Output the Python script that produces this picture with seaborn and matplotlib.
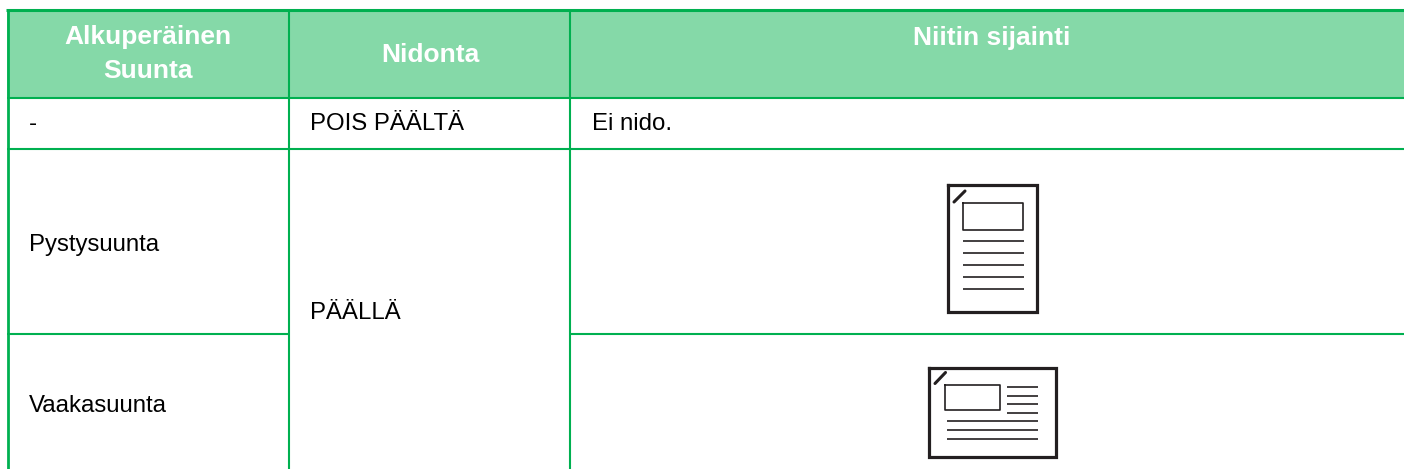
import numpy as np
import matplotlib.pyplot as plt
import seaborn as sns

# table content
header_a = ["Alkuperäinen", "Suunta"]
header_b = "Nidonta"
header_c = "Niitin sijainti"
col_a = ["-", "Pystysuunta", "Vaakasuunta"]
col_b = ["POIS PÄÄLTÄ", "PÄÄLLÄ"]
col_c = ["Ei nido."]

GREEN = "#00b050"
FILL = "#85d9a8"
INK = "#231f20"

sns.set_theme(style="white")
plt.rcParams['font.family'] = ['Liberation Sans', 'DejaVu Sans']

W, H = 1404, 469
fig = plt.figure(figsize=(W / 100, H / 100), dpi=100)

# header band as a one cell heatmap, placed in pixels
head = fig.add_axes([7 / W, 1 - 98 / H, (W - 7) / W, 87 / H])
sns.heatmap(np.zeros((1, 1)), ax=head, cmap=[FILL], cbar=False,
            xticklabels=False, yticklabels=False)

# everything else goes on a pixel grid with the origin top left
ax = fig.add_axes([0, 0, 1, 1], facecolor="none")
ax.set_xlim(0, W)
ax.set_ylim(H, 0)
ax.axis("off")

# grid lines
ax.hlines(10.5, 6, W, color=GREEN, lw=2.2)
ax.hlines(98, 7, W, color=GREEN, lw=1.5)
ax.hlines(149, 7, W, color=GREEN, lw=1.5)
ax.hlines(334.5, 7, 289, color=GREEN, lw=1.5)
ax.hlines(334.5, 570, W, color=GREEN, lw=1.5)
ax.vlines(7.5, 9, H, color=GREEN, lw=2.0)
ax.vlines(289, 9, H, color=GREEN, lw=1.5)
ax.vlines(570, 9, H, color=GREEN, lw=1.5)

# header text
head_kw = dict(color="white", fontweight="bold", fontsize=19,
               ha="center", va="baseline")
ax.text(147.5, 44, header_a[0], **head_kw)
ax.text(148, 77.5, header_a[1], **head_kw)
ax.text(430, 62.5, header_b, **head_kw)
ax.text(992, 45.5, header_c, **head_kw)

# body text
body_kw = dict(color="black", fontsize=17.3, ha="left", va="baseline")
ax.text(29, 130, col_a[0], **body_kw)
ax.text(29, 250.5, col_a[1], **body_kw)
ax.text(29, 411.5, col_a[2], **body_kw)
ax.text(310, 130, col_b[0], **body_kw)
ax.text(310, 319, col_b[1], **body_kw)
ax.text(592, 130, col_c[0], **body_kw)


def page(x0, y0, x1, y1):
    ax.plot([x0, x1, x1, x0, x0], [y0, y0, y1, y1, y0], color=INK, lw=2.3,
            solid_joinstyle="miter", solid_capstyle="projecting")


def box(x0, y0, x1, y1):
    ax.plot([x0, x1, x1, x0, x0], [y0, y0, y1, y1, y0], color=INK, lw=1.2)


def rules(x0, x1, ys):
    ax.hlines(ys, x0, x1, color=INK, lw=1.2)


# portrait icon
page(948, 185, 1037, 312)
ax.plot([954, 965], [202, 191], color=INK, lw=2.2)
box(963, 203, 1023, 230)
rules(963, 1024, [241, 253, 265.5, 277.5, 289.5])

# landscape icon
page(929, 368, 1056, 457)
ax.plot([935, 945.5], [383.5, 372.5], color=INK, lw=2.2)
box(945, 385.5, 1000, 410.5)
rules(1007, 1038, [387.5, 396, 404.5, 413])
rules(947, 1038, [421.5, 430.5, 439])

fig.savefig("out.png", dpi=100)
